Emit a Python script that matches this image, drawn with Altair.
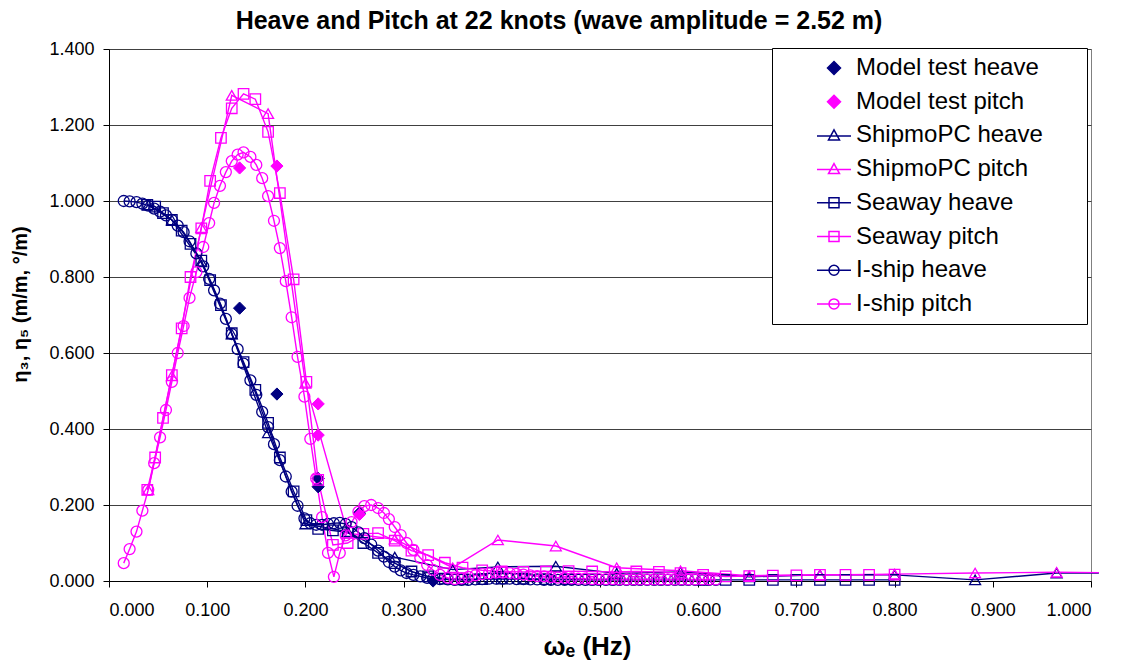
import altair as alt
import pandas as pd

NAVY = "#000080"
MAGENTA = "#FF00FF"
FONT = "Liberation Sans"

series_order = ["Model test heave", "Model test pitch", "ShipmoPC heave", "ShipmoPC pitch",
                "Seaway heave", "Seaway pitch", "I-ship heave", "I-ship pitch"]

# Model test (discrete)
mt_heave_x = [0.133, 0.171, 0.213, 0.213, 0.255, 0.330]
mt_heave_y = [0.718, 0.492, 0.270, 0.248, 0.179, 0.000]
mt_pitch_x = [0.133, 0.171, 0.213, 0.213, 0.255]
mt_pitch_y = [1.087, 1.092, 0.466, 0.384, 0.175]

# ShipmoPC
sp_x = [0.040, 0.064, 0.094, 0.125, 0.162, 0.200, 0.243, 0.291, 0.350, 0.396, 0.455,
        0.517, 0.582, 0.652, 0.724, 0.800, 0.882, 0.965, 1.008]
sp_heave = [0.990, 0.950, 0.840, 0.650, 0.390, 0.150, 0.130, 0.063, 0.030, 0.037, 0.039,
            0.020, 0.024, 0.011, 0.016, 0.016, 0.003, 0.021, 0.021]
sp_pitch = [0.240, 0.540, 0.930, 1.278, 1.230, 0.520, 0.126, 0.110, 0.035, 0.108, 0.092,
            0.035, 0.027, 0.014, 0.016, 0.018, 0.021, 0.023, 0.022]

# Seaway
sw_x = [0.039, 0.047, 0.055, 0.064, 0.074, 0.083, 0.094, 0.103, 0.114, 0.125, 0.137, 0.149,
        0.162, 0.174, 0.188, 0.201, 0.213, 0.228, 0.243, 0.259, 0.274, 0.291, 0.308, 0.325,
        0.342, 0.360, 0.380, 0.400, 0.422, 0.445, 0.468, 0.492, 0.515, 0.537, 0.560, 0.582,
        0.605, 0.628, 0.652, 0.676, 0.700, 0.724, 0.750, 0.774, 0.800]
sw_heave = [0.990, 0.985, 0.968, 0.950, 0.922, 0.887, 0.843, 0.792, 0.726, 0.652, 0.576, 0.503,
            0.416, 0.325, 0.236, 0.160, 0.137, 0.133, 0.128, 0.100, 0.074, 0.047, 0.025, 0.012,
            0.006, 0.004, 0.005, 0.006, 0.006, 0.005, 0.005, 0.004, 0.004, 0.004, 0.004, 0.004,
            0.003, 0.003, 0.003, 0.003, 0.003, 0.003, 0.003, 0.003, 0.003]
sw_pitch = [0.240, 0.325, 0.429, 0.542, 0.665, 0.800, 0.928, 1.053, 1.166, 1.244, 1.282, 1.268,
            1.182, 1.021, 0.794, 0.524, 0.266, 0.095, 0.100, 0.124, 0.126, 0.106, 0.080, 0.068,
            0.048, 0.035, 0.028, 0.025, 0.024, 0.025, 0.026, 0.025, 0.024, 0.025, 0.024, 0.021,
            0.016, 0.012, 0.013, 0.014, 0.015, 0.016, 0.016, 0.016, 0.017]

# I-ship
is_x = [0.015, 0.021, 0.028, 0.034, 0.040, 0.046, 0.052, 0.058, 0.064, 0.070, 0.076, 0.082,
        0.089, 0.096, 0.102, 0.107, 0.113, 0.119, 0.125, 0.131, 0.137, 0.144, 0.150, 0.156,
        0.162, 0.168, 0.174, 0.180, 0.186, 0.192, 0.199, 0.205, 0.211, 0.217, 0.223, 0.229,
        0.235, 0.241, 0.247, 0.254, 0.260, 0.267, 0.274, 0.280, 0.285, 0.291, 0.297, 0.303,
        0.310, 0.317, 0.324, 0.330, 0.337, 0.345, 0.352, 0.359, 0.366, 0.373, 0.380, 0.387,
        0.394, 0.401, 0.408, 0.415, 0.422, 0.429, 0.436, 0.443, 0.450, 0.457, 0.464, 0.471,
        0.478, 0.485, 0.492, 0.499, 0.506, 0.513, 0.520, 0.527, 0.534, 0.541, 0.548, 0.555,
        0.562, 0.569, 0.576, 0.583, 0.590, 0.597, 0.604, 0.611, 0.618]
is_heave = [1.000, 0.999, 0.997, 0.993, 0.988, 0.980, 0.972, 0.962, 0.950, 0.935, 0.918, 0.894,
            0.862, 0.828, 0.795, 0.765, 0.730, 0.690, 0.650, 0.610, 0.572, 0.528, 0.490, 0.445,
            0.405, 0.360, 0.318, 0.275, 0.235, 0.198, 0.165, 0.152, 0.148, 0.148, 0.150, 0.152,
            0.153, 0.150, 0.142, 0.128, 0.113, 0.096, 0.080, 0.064, 0.050, 0.038, 0.028, 0.021,
            0.016, 0.012, 0.008, 0.006, 0.005, 0.004, 0.003, 0.003, 0.003, 0.004, 0.005, 0.006,
            0.006, 0.006, 0.006, 0.005, 0.005, 0.004, 0.004, 0.003, 0.003, 0.003, 0.003, 0.003,
            0.003, 0.003, 0.003, 0.003, 0.003, 0.003, 0.003, 0.003, 0.003, 0.003, 0.003, 0.003,
            0.003, 0.003, 0.003, 0.003, 0.003, 0.003, 0.003, 0.003, 0.003]
is_pitch = [0.047, 0.084, 0.130, 0.185, 0.240, 0.310, 0.378, 0.450, 0.524, 0.600, 0.671, 0.745,
            0.813, 0.879, 0.942, 0.995, 1.040, 1.076, 1.105, 1.122, 1.128, 1.116, 1.095, 1.060,
            1.013, 0.948, 0.876, 0.789, 0.694, 0.590, 0.485, 0.374, 0.270, 0.168, 0.074, 0.011,
            0.074, 0.120, 0.155, 0.182, 0.197, 0.200, 0.192, 0.179, 0.163, 0.142, 0.121, 0.100,
            0.082, 0.061, 0.042, 0.029, 0.016, 0.008, 0.005, 0.007, 0.011, 0.015, 0.018, 0.020,
            0.022, 0.022, 0.021, 0.019, 0.017, 0.015, 0.013, 0.012, 0.010, 0.009, 0.008, 0.007,
            0.006, 0.006, 0.005, 0.005, 0.005, 0.005, 0.004, 0.004, 0.004, 0.004, 0.004, 0.004,
            0.004, 0.004, 0.004, 0.004, 0.004, 0.004, 0.004, 0.004, 0.004]

x_ticks = [0.0, 0.1, 0.2, 0.3, 0.4, 0.5, 0.6, 0.7, 0.8, 0.9, 1.0]
y_ticks = [0.0, 0.2, 0.4, 0.6, 0.8, 1.0, 1.2, 1.4]


def frame(name, xs, ys):
    return pd.DataFrame({"x": xs, "y": ys, "series": name})


mh_df = frame("Model test heave", mt_heave_x, mt_heave_y)
mp_df = frame("Model test pitch", mt_pitch_x, mt_pitch_y)
sp_df = pd.concat([frame("ShipmoPC heave", sp_x, sp_heave), frame("ShipmoPC pitch", sp_x, sp_pitch)])
sw_df = pd.concat([frame("Seaway heave", sw_x, sw_heave), frame("Seaway pitch", sw_x, sw_pitch)])
is_df = pd.concat([frame("I-ship heave", is_x, is_heave), frame("I-ship pitch", is_x, is_pitch)])
curve_df = pd.concat([sp_df, sw_df, is_df])

color_range = [NAVY, MAGENTA] * 4

x_enc = alt.X("x:Q", scale=alt.Scale(domain=[0, 1], nice=False, zero=False),
              axis=alt.Axis(values=x_ticks, format=".3f", title="ωₑ (Hz)", grid=False, titleX=478))
y_enc = alt.Y("y:Q", scale=alt.Scale(domain=[0, 1.4], nice=False, zero=False),
              axis=alt.Axis(values=y_ticks, format=".3f", title="η₃, η₅ (m/m, °/m)", grid=True,
                            titleY=255))

shape_expr = ("indexof(datum.value,'Model')==0 ? 'M0,-1.3L1.3,0L0,1.3L-1.3,0Z' : "
              "indexof(datum.value,'ShipmoPC')==0 ? 'M-3.4,0.1L3.4,0.1M0,-1.1L1.1,0.9L-1.1,0.9Z' : "
              "indexof(datum.value,'Seaway')==0 ? 'M-3.4,0L3.4,0M-1,-1L1,-1L1,1L-1,1Z' : "
              "'M-3.4,0L3.4,0M-1,0A1,1,0,1,0,1,0A1,1,0,1,0,-1,0Z'")
fill_expr = ("indexof(datum.value,'Model')==0 ? (indexof(datum.value,'heave')>0 ? '#000080' : '#FF00FF') "
             ": 'transparent'")

legend = alt.Legend(
    orient="none", legendX=663, legendY=-1, title=None,
    padding=8, rowPadding=9.7, labelFontSize=24, labelFont=FONT, labelColor="black",
    strokeColor="black", fillColor="white", symbolStrokeWidth=1.5, symbolSize=100,
    symbolOffset=42, labelOffset=10, labelLimit=400,
    symbolType=alt.ExprRef(shape_expr),
    symbolFillColor=alt.ExprRef(fill_expr),
    labelExpr="datum.label + '\u2800\u2800'",
)

stroke_enc = alt.Stroke("series:N", scale=alt.Scale(domain=series_order, range=color_range), legend=legend)

lines = alt.Chart(curve_df).mark_line(strokeWidth=1.4, opacity=1).encode(
    x=x_enc, y=y_enc, stroke=stroke_enc, detail="series:N")

tri_pts = alt.Chart(sp_df).transform_filter("datum.x <= 1").mark_point(
    filled=False, shape="triangle-up", size=120, strokeWidth=1.3, opacity=1).encode(
    x=x_enc, y=y_enc, stroke=stroke_enc)
sq_pts = alt.Chart(sw_df).mark_point(
    filled=False, shape="square", size=110, strokeWidth=1.3, opacity=1).encode(
    x=x_enc, y=y_enc, stroke=stroke_enc)
circ_pts = alt.Chart(is_df).mark_point(
    filled=False, shape="circle", size=120, strokeWidth=1.3, opacity=1).encode(
    x=x_enc, y=y_enc, stroke=stroke_enc)
mh_pts = alt.Chart(mh_df).mark_point(
    filled=True, shape="diamond", size=150, fill=NAVY, strokeWidth=1, opacity=1).encode(
    x=x_enc, y=y_enc, stroke=stroke_enc)
mp_pts = alt.Chart(mp_df).mark_point(
    filled=True, shape="diamond", size=150, fill=MAGENTA, strokeWidth=1, opacity=1).encode(
    x=x_enc, y=y_enc, stroke=stroke_enc)

chart = alt.layer(lines, mh_pts, mp_pts, tri_pts, sq_pts, circ_pts).properties(
    width=982, height=532,
    autosize=alt.AutoSizeParams(type="none"),
    padding={"left": 109, "top": 49, "right": 31, "bottom": 79},
    title=alt.TitleParams(
        "Heave and Pitch at 22 knots (wave amplitude = 2.52 m)",
        font=FONT, fontSize=25, fontWeight="bold", color="black",
        anchor="middle", dx=-41, offset=6,
    ),
).configure_view(stroke="#808080", strokeWidth=1).configure_axis(
    labelFont=FONT, labelFontSize=18, labelColor="black",
    titleFont=FONT, titleFontWeight="bold", titleColor="black",
    domainColor="black", tickColor="black", tickSize=6, domainWidth=1, tickWidth=1,
    gridColor="#404040", gridWidth=1,
).configure_axisX(labelPadding=14, titlePadding=14, titleFontSize=26).configure_axisY(
    labelPadding=9, titlePadding=18, titleFontSize=20)

chart.save("out.html", embed_options={"renderer": "svg", "actions": False})
